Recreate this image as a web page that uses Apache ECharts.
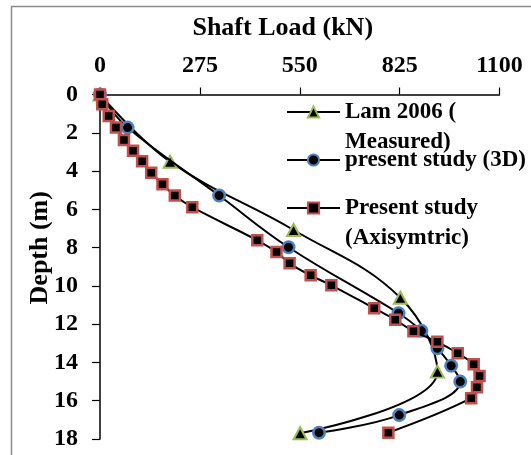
<!DOCTYPE html>
<html>
<head>
<meta charset="utf-8">
<script src="https://cdn.jsdelivr.net/npm/echarts@6/dist/echarts.min.js"></script>
<style>
  html, body { margin: 0; padding: 0; background: #fff; }
  #chart { width: 531px; height: 455px; }
</style>
</head>
<body>
<div id="chart"></div>
<script>
// Shaft load distribution along the pile (kN) versus depth (m)
const loadTicks = [0, 275, 550, 825, 1100];
const depthTicks = [0, 2, 4, 6, 8, 10, 12, 14, 16, 18];

const lamLoad  = [0, 193, 533, 827, 929, 551];
const lamDepth = [0, 3.51, 7.08, 10.62, 14.48, 17.7];

const load3D  = [0, 76, 328, 519, 822, 885, 929, 967, 992, 824, 603];
const depth3D = [0, 1.73, 5.28, 7.98, 11.43, 12.35, 13.26, 14.17, 15.0, 16.75, 17.67];

const loadAxi  = [0, 6, 24, 44, 66, 91, 116, 141, 172, 206, 254, 433, 486, 522, 580, 637,
                  755, 813, 863, 929, 985, 1029, 1045, 1038, 1022, 794];
const depthAxi = [0, 0.51, 1.12, 1.73, 2.38, 2.94, 3.49, 4.09, 4.69, 5.28, 5.89, 7.62, 8.23,
                  8.82, 9.45, 9.97, 11.17, 11.77, 12.37, 12.92, 13.52, 14.1, 14.71, 15.3, 15.87, 17.67];

const seriesNames = ['Lam 2006 (\nMeasured)', 'present study (3D)', 'Present study\n(Axisymtric)'];

const pairs = (xs, ys) => xs.map((x, i) => [x, ys[i]]);

const FONT = 'Liberation Serif';
const LINE_H = 30;

// Each entry gets its own legend box; wrapped names keep their first line level
// with the key symbol by adding a blank line above the text block.
function legendFor(name, top) {
  const wrapped = name.indexOf('\n') >= 0;
  return {
    data: [name],
    orient: 'vertical',
    left: 286,
    top: top,
    padding: 0,
    itemWidth: 53,
    itemHeight: 14,
    formatter: n => (wrapped ? ' \n' + n : n),
    textStyle: {
      fontFamily: FONT, fontWeight: 'bold', fontSize: 23,
      color: '#000', lineHeight: LINE_H
    }
  };
}

const chart = echarts.init(document.getElementById('chart'), null, { renderer: 'canvas' });

chart.setOption({
  animation: false,
  backgroundColor: '#fff',
  graphic: [{
    type: 'rect',
    shape: { x: 11.5, y: 6.5, width: 700, height: 700 },
    style: { fill: 'none', stroke: '#8c8c8c', lineWidth: 1.5 },
    z: -10, silent: true
  }],
  grid: { left: 100, right: 31.5, top: 94.5, bottom: 16 },
  legend: [
    legendFor(seriesNames[0], 112 - 1.5 * LINE_H),
    legendFor(seriesNames[1], 160 - 0.5 * LINE_H),
    legendFor(seriesNames[2], 208 - 1.5 * LINE_H)
  ],
  xAxis: {
    type: 'value',
    position: 'top',
    min: loadTicks[0],
    max: loadTicks[loadTicks.length - 1],
    interval: loadTicks[1] - loadTicks[0],
    name: 'Shaft Load (kN)',
    nameLocation: 'middle',
    nameMoveOverlap: false,
    nameGap: 53,
    nameTextStyle: {
      fontFamily: FONT, fontWeight: 'bold', fontSize: 26, color: '#000',
      padding: [0, 34, 0, 0]
    },
    axisLine: { show: true, lineStyle: { color: '#000', width: 1.5 } },
    axisTick: { show: true, length: 7, lineStyle: { color: '#000', width: 1.2 } },
    axisLabel: {
      fontFamily: FONT, fontWeight: 'bold', fontSize: 24, color: '#000', margin: 17,
      formatter: v => String(v)
    },
    splitLine: { show: false }
  },
  yAxis: {
    type: 'value',
    inverse: true,
    min: depthTicks[0],
    max: depthTicks[depthTicks.length - 1],
    interval: depthTicks[1] - depthTicks[0],
    name: 'Depth (m)',
    nameLocation: 'middle',
    nameMoveOverlap: false,
    nameRotate: 90,
    nameGap: 47,
    nameTextStyle: {
      fontFamily: FONT, fontWeight: 'bold', fontSize: 26, color: '#000',
      padding: [0, 0, 0, 38]
    },
    axisLine: { show: true, lineStyle: { color: '#000', width: 1.5 } },
    axisTick: { show: true, length: 8, lineStyle: { color: '#000', width: 1.2 } },
    axisLabel: {
      fontFamily: FONT, fontWeight: 'bold', fontSize: 24, color: '#000', margin: 22,
      formatter: v => String(v)
    },
    splitLine: { show: false }
  },
  series: [
    {
      name: seriesNames[0],
      type: 'line',
      smooth: 0.4,
      data: pairs(lamLoad, lamDepth),
      symbol: 'triangle',
      symbolSize: [13, 12],
      lineStyle: { color: '#000', width: 2 },
      itemStyle: { color: '#000', borderColor: '#9BBB59', borderWidth: 2 },
      z: 2
    },
    {
      name: seriesNames[1],
      type: 'line',
      smooth: 0.4,
      data: pairs(load3D, depth3D),
      symbol: 'circle',
      symbolSize: 11.5,
      lineStyle: { color: '#000', width: 2 },
      itemStyle: { color: '#000', borderColor: '#4F81BD', borderWidth: 2.5 },
      z: 3
    },
    {
      name: seriesNames[2],
      type: 'line',
      smooth: 0.4,
      data: pairs(loadAxi, depthAxi),
      symbol: 'rect',
      symbolSize: 10,
      lineStyle: { color: '#000', width: 2 },
      itemStyle: { color: '#000', borderColor: '#C0504D', borderWidth: 2.5 },
      z: 4
    }
  ]
});
</script>
</body>
</html>
